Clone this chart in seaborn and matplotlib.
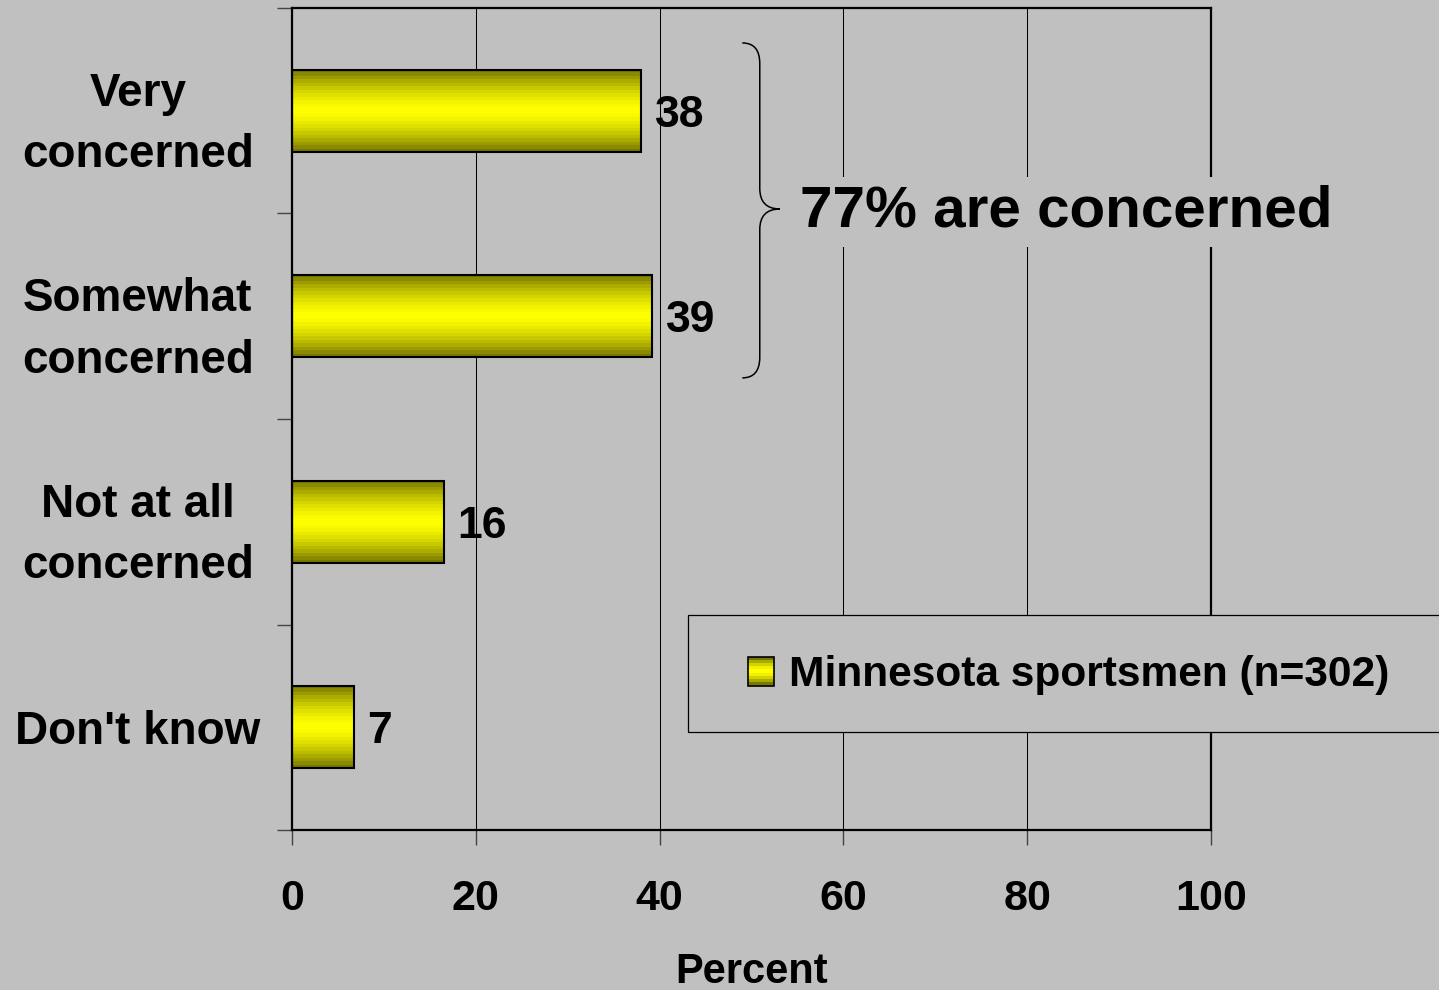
import numpy as np
import matplotlib
matplotlib.use("Agg")
import matplotlib.pyplot as plt
import matplotlib.transforms as mtransforms
import seaborn as sns
import pandas as pd
from matplotlib.patches import Rectangle, Patch, PathPatch
from matplotlib.path import Path
from matplotlib.legend_handler import HandlerBase

# ---------------- data ----------------
categories = ["Very\nconcerned", "Somewhat\nconcerned", "Not at all\nconcerned", "Don't know"]
percent = [38.0, 39.2, 16.5, 6.7]
value_labels = ["38", "39", "16", "7"]
x_ticks = [0, 20, 40, 60, 80, 100]
series_name = "Minnesota sportsmen (n=302)"
annotation = "77% are concerned"
x_label = "Percent"

BG = "#C0C0C0"

sns.set_style("white", rc={"axes.facecolor": BG, "figure.facecolor": BG,
                           "text.color": "black", "axes.labelcolor": "black",
                           "xtick.color": "black", "ytick.color": "black"})
plt.rcParams["font.family"] = ["Liberation Sans", "DejaVu Sans"]
plt.rcParams["font.weight"] = "bold"
plt.rcParams["text.color"] = "black"
plt.rcParams["axes.labelcolor"] = "black"
plt.rcParams["xtick.labelcolor"] = "black"
plt.rcParams["ytick.labelcolor"] = "black"


def grad_colors(n):
    t = np.linspace(-1, 1, n)
    f = 1 - np.abs(t) ** 1.6
    r = 0.47 + 0.53 * f
    return np.stack([r, r, np.zeros_like(r)], axis=-1)


fig = plt.figure(figsize=(14.39, 9.9), dpi=100)
ax = fig.add_axes([292 / 1439, 1 - 830 / 990, (1211 - 292) / 1439, (830 - 8) / 990])

df = pd.DataFrame({"category": categories, "percent": percent})
sns.barplot(data=df, x="percent", y="category", orient="h", color="#FFFF00",
            width=0.4, edgecolor="black", linewidth=1.5, saturation=1, ax=ax)

# gradient fill clipped to each bar
grad = grad_colors(24)[:, None, :]
for p in list(ax.patches):
    x0, y0, w, h = p.get_x(), p.get_y(), p.get_width(), p.get_height()
    im = ax.imshow(grad, extent=[x0, x0 + w, y0 + h, y0], aspect="auto",
                   interpolation="nearest", zorder=0.9)
    im.set_clip_path(p)
    p.set_facecolor("none")
    p.set_zorder(1)

ax.set_xlim(0, 100)
ax.set_ylim(3.5, -0.5)
ax.set_xticks(x_ticks)
ax.xaxis.grid(True, color="black", linewidth=0.75)
ax.yaxis.grid(False)
ax.set_axisbelow(True)
for s in ax.spines.values():
    s.set_visible(True)
    s.set_color("black")
    s.set_linewidth(1.6)

ax.set_yticks([-0.5, 0.5, 1.5, 2.5, 3.5], minor=True)
ax.set_yticks(range(len(categories)))
ax.set_yticklabels(categories, ha="center", multialignment="center",
                   linespacing=1.52, color="black")
shift = mtransforms.ScaledTranslation(0, 4 / 72, fig.dpi_scale_trans)
for lbl in ax.get_yticklabels():
    lbl.set_transform(lbl.get_transform() + shift)
ax.tick_params(axis="y", which="minor", length=11, width=1, color="#444444",
               direction="out", left=True)
ax.tick_params(axis="y", which="major", length=0, pad=111, labelsize=33)
ax.tick_params(axis="x", which="major", length=11, width=1, color="#444444",
               direction="out", bottom=True, pad=24, labelsize=31,
               labelcolor="black")
ax.set_ylabel("")
ax.set_xlabel(x_label, fontsize=30, fontweight="bold", labelpad=24, color="black")

ax.bar_label(ax.containers[0], labels=value_labels, padding=10,
             fontsize=32, fontweight="bold", color="black")
for t in ax.texts:
    t.set_va("center_baseline")

# brace spanning the two "concerned" categories
bx0, bx1, bxt = 49.0, 50.9, 53.1
by0, by1, byt = -0.33, 1.30, 0.478
dy = 0.1
verts = [(bx0, by0), (bx1, by0), (bx1, by0 + dy),
         (bx1, byt - dy),
         (bx1, byt), (bxt, byt),
         (bx1, byt), (bx1, byt + dy),
         (bx1, by1 - dy),
         (bx1, by1), (bx0, by1)]
codes = [Path.MOVETO, Path.CURVE3, Path.CURVE3,
         Path.LINETO,
         Path.CURVE3, Path.CURVE3,
         Path.CURVE3, Path.CURVE3,
         Path.LINETO,
         Path.CURVE3, Path.CURVE3]
ax.add_patch(PathPatch(Path(verts, codes), facecolor="none", edgecolor="black",
                       linewidth=1.1, clip_on=False, zorder=3))

ax.text(55.3, 0.565, annotation, fontsize=42, fontweight="bold", ha="left",
        va="baseline", zorder=4, color="black",
        bbox=dict(facecolor=BG, edgecolor="none", pad=6))


# legend with gradient handle
class GradHandler(HandlerBase):
    def create_artists(self, legend, orig_handle, xdescent, ydescent, width,
                       height, fontsize, trans):
        arts = []
        cols = grad_colors(9)
        n = len(cols)
        for i, c in enumerate(cols):
            arts.append(Rectangle((-xdescent, -ydescent + height * i / n), width,
                                  height / n, facecolor=c, edgecolor="none",
                                  transform=trans))
        arts.append(Rectangle((-xdescent, -ydescent), width, height,
                              facecolor="none", edgecolor="black", linewidth=1.2,
                              transform=trans))
        return arts


frame = Rectangle((688 / 1439, 1 - 732 / 990), 0.6, 117 / 990,
                  transform=fig.transFigure, facecolor=BG, edgecolor="black",
                  linewidth=0.9, zorder=3)
fig.add_artist(frame)
h = Patch(facecolor="#FFFF00", edgecolor="black", label=series_name)
leg = fig.legend(handles=[h], labels=[series_name], loc="center left",
                 bbox_to_anchor=(748 / 1439, 1 - 675 / 990),
                 bbox_transform=fig.transFigure, frameon=False,
                 borderpad=0, borderaxespad=0, handlelength=0.6,
                 handleheight=0.67, handletextpad=0.36,
                 prop={"size": 30.6, "weight": "bold"},
                 handler_map={Patch: GradHandler()})
for t in leg.get_texts():
    t.set_color("black")
leg.set_zorder(5)

fig.savefig("out.png", dpi=100, facecolor=BG)
